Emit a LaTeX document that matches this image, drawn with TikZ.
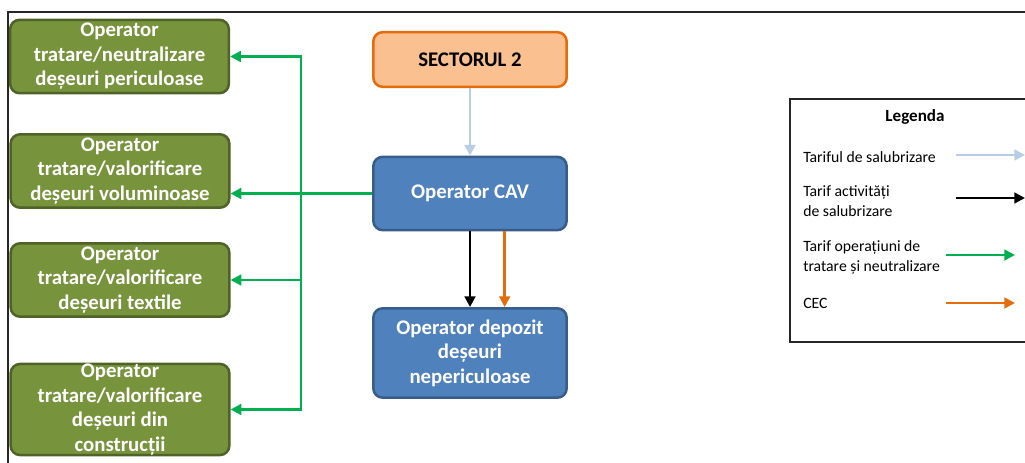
\documentclass[tikz,border=0pt]{standalone}
\usepackage{fontspec}
\setmainfont{Carlito}
\usetikzlibrary{arrows.meta}
\definecolor{olivfill}{HTML}{77933C}
\definecolor{olivdraw}{HTML}{4F6228}
\definecolor{orfill}{HTML}{FAC090}
\definecolor{ordraw}{HTML}{E46C0A}
\definecolor{bluefill}{HTML}{4F81BD}
\definecolor{bluedraw}{HTML}{385D8A}
\definecolor{lightblue}{HTML}{B9CDE5}
\definecolor{arrgreen}{HTML}{00B050}
\definecolor{framegray}{HTML}{262626}
\tikzset{
  opgreen/.style={draw=olivdraw,fill=olivfill,line width=1.9pt,rounded corners=7pt,
    text=white,font=\bfseries\fontsize{15.6}{18.4}\selectfont,align=center,
    minimum width=164pt,minimum height=55pt,inner sep=0pt},
  opblue/.style={draw=bluedraw,fill=bluefill,line width=1.9pt,rounded corners=7pt,
    text=white,font=\bfseries\fontsize{15.6}{18.4}\selectfont,align=center,
    minimum width=145pt,inner sep=0pt},
  sector/.style={draw=ordraw,fill=orfill,line width=1.9pt,rounded corners=7pt,
    font=\bfseries\fontsize{15.6}{18.4}\selectfont,
    minimum width=145pt,minimum height=41pt},
  legtext/.style={anchor=west,align=left,font=\fontsize{11.8}{15}\selectfont,inner sep=0pt},
  arr/.style={line width=1.9pt,->,>={Triangle[length=8pt,width=8pt]}},
}
\begin{document}
\begin{tikzpicture}[x=0.75pt,y=-0.75pt]
    \useasboundingbox (0,0) rectangle (1025,463);
    \draw[framegray,line width=1.1pt] (8,463) -- (8,12) -- (1025,12);
    % operatori tratare
    \node[opgreen] (trat1) at (119.5,56.5) {Operator\\tratare/neutralizare\\deșeuri periculoase};
    \node[opgreen] (trat2) at (120,171) {Operator\\tratare/valorificare\\deșeuri voluminoase};
    \node[opgreen] (trat3) at (120,280) {Operator\\tratare/valorificare\\deșeuri textile};
    \node[opgreen,minimum height=68pt] (trat4) at (120,409.5) {Operator\\tratare/valorificare\\deșeuri din\\construcții};
    % sector si operatori
    \node[sector] (sect) at (470,59.5) {SECTORUL 2};
    \node[opblue,minimum height=55pt] (cav) at (470,193.5) {Operator CAV};
    \node[opblue,minimum height=67pt] (depo) at (470,353) {Operator depozit\\deșeuri\\nepericuloase};
    \coordinate (bus) at (301,193.5);
    \draw[arr,lightblue] (sect) -- (cav);
    \draw[arr,black] (cav) -- (depo);
    \draw[arr,ordraw] ([xshift=26pt]cav.south) -- ([xshift=26pt]depo.north);
    \draw[arr,arrgreen] (cav.west) -- (cav.west -| trat2.east);
    \draw[arr,arrgreen] (bus) |- (trat1.east);
    \draw[arr,arrgreen] (bus) |- (trat3.east);
    \draw[arr,arrgreen] (bus) |- (trat4.east);
    % legenda
    \draw[framegray,line width=1.1pt] (1025,99) -- (790,99) -- (790,342) -- (1025,342);
    \node[font=\bfseries\fontsize{12.8}{15}\selectfont] (leg) at (915,117) {Legenda};
    \node[legtext] (l1) at (803,157) {Tariful de salubrizare};
    \node[legtext] (l2) at (803,201) {Tarif activități\\de salubrizare};
    \node[legtext] (l3) at (803,257) {Tarif operațiuni de\\tratare și neutralizare};
    \node[legtext] (l4) at (803,303) {CEC};
    \draw[arr,lightblue] (956,155) -- (1025,155);
    \draw[arr,black] (956,198) -- (1025,198);
    \draw[arr,arrgreen] (946,255) -- (1015,255);
    \draw[arr,ordraw] (946,303) -- (1015,303);
\end{tikzpicture}
\end{document}
